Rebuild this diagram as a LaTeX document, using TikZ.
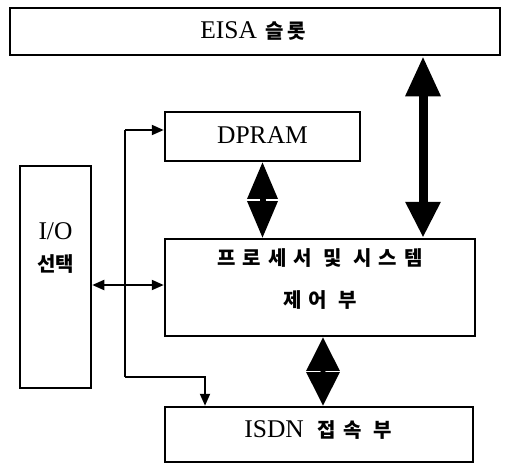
\documentclass[tikz,border=0pt]{standalone}
\usepackage{fontspec}
\setmainfont{Liberation Serif}
\newfontfamily\kr{Noto Sans CJK KR}
\usetikzlibrary{arrows.meta,calc}
\begin{document}
\begin{tikzpicture}[x=1pt,y=-1pt,
  box/.style={draw,line width=2.5pt,rectangle,inner sep=0pt},
  lat/.style={font=\fontsize{25.5}{27}\selectfont},
  han/.style={font=\fontsize{20}{22}\selectfont\kr\bfseries\addfontfeature{LetterSpace=35}},
  thin/.style={line width=2pt},
  gapline/.style={white,line width=1.6pt}]
\useasboundingbox (0,0) rectangle (505,464);
% boxes
\node[box,minimum width=490pt,minimum height=47pt] (eisa) at (255,31.5) {};
\node[lat] (eisat) at (253,31) {EISA\hspace{9pt}{\kr\bfseries\fontsize{20}{22}\selectfont\addfontfeature{LetterSpace=15}슬롯}};
\node[box,minimum width=195pt,minimum height=49pt] (dpram) at (262.5,136.5) {};
\node[lat] (dpramt) at (262.5,135) {DPRAM};
\node[box,minimum width=71pt,minimum height=222pt] (io) at (55.5,277) {};
\node[lat] (iot1) at (55.5,231) {I/O};
\node[font=\fontsize{20}{22}\selectfont\kr\bfseries] (iot2) at (55.5,264) {선택};
\node[box,minimum width=310pt,minimum height=97pt] (proc) at (320,287.5) {};
\node[han] (proct1) at (320,258) {프로세서 및 시스템};
\node[han] (proct2) at (320,300) {제어 부};
\node[box,minimum width=308pt,minimum height=55pt] (isdn) at (319,434.5) {};
\node[lat] (isdnt) at (318,430) {ISDN\hspace{14pt}{\kr\bfseries\fontsize{20}{22}\selectfont\addfontfeature{LetterSpace=35}접속 부}};
% junction coordinates
\coordinate (j) at (125,285);
\coordinate (jt) at (125,130);
\coordinate (jb) at (125,377);
\coordinate (jc) at (205,377);
\coordinate (ea) at (423,0);
\coordinate (pi) at (323,0);
% thin connectors
\draw[thin,{Triangle[width=10pt,length=12pt]}-{Triangle[width=10pt,length=12pt]}] (io.east |- j) -- (proc.west |- j);
\draw[thin] (jb) -- (jt);
\draw[thin,-{Triangle[width=10pt,length=12pt]}] (jt) -- (dpram.west |- jt);
\draw[thin,-{Triangle[width=10pt,length=12pt]}] (jb) -- (jc) -- (isdn.north -| jc);
% EISA <-> processor
\draw[line width=9pt,{Triangle[width=33pt,length=40pt]}-{Triangle[width=33pt,length=36pt]}] (eisa.south -| ea) -- (proc.north -| ea);
% DPRAM <-> processor
\draw[line width=4pt,{Triangle[width=31pt,length=38pt]}-{Triangle[width=31pt,length=38pt]}] (dpram.south) -- (proc.north -| dpram.south);
\coordinate (m1) at ($(dpram.south)!0.5!(proc.north -| dpram.south)$);
\draw[gapline] ($(m1)+(-17,0)$) -- ($(m1)+(-3,0)$);
\draw[gapline] ($(m1)+(3,0)$) -- ($(m1)+(17,0)$);
% processor <-> ISDN
\draw[line width=4pt,{Triangle[width=33pt,length=34pt]}-{Triangle[width=33pt,length=34pt]}] (proc.south -| pi) -- (isdn.north -| pi);
\coordinate (m2) at ($(proc.south -| pi)!0.5!(isdn.north -| pi)$);
\draw[gapline] ($(m2)+(-18,0)$) -- ($(m2)+(-3,0)$);
\draw[gapline] ($(m2)+(3,0)$) -- ($(m2)+(18,0)$);
\end{tikzpicture}
\end{document}
